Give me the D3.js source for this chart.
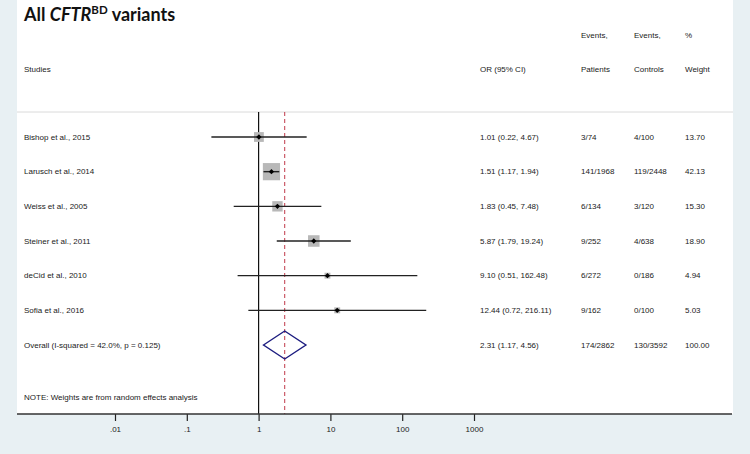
<!DOCTYPE html>
<html><head><meta charset="utf-8">
<script src="https://cdn.jsdelivr.net/npm/d3@7"></script>
<style>body{margin:0;background:#e8f0f3;} svg{display:block;}</style>
</head><body>
<svg id="c" width="750" height="454"></svg>
<script>
const studies = ["Bishop et al., 2015","Larusch et al., 2014","Weiss et al., 2005","Steiner et al., 2011","deCid et al., 2010","Sofia et al., 2016"];
const orValues = [1.01,1.51,1.83,5.87,9.10,12.44];
const ciLow = [0.22,1.17,0.45,1.79,0.51,0.72];
const ciHigh = [4.67,1.94,7.48,19.24,162.48,216.11];
const orText = ["1.01 (0.22, 4.67)","1.51 (1.17, 1.94)","1.83 (0.45, 7.48)","5.87 (1.79, 19.24)","9.10 (0.51, 162.48)","12.44 (0.72, 216.11)"];
const eventsPatients = ["3/74","141/1968","6/134","9/252","6/272","9/162"];
const eventsControls = ["4/100","119/2448","3/120","4/638","0/186","0/100"];
const weights = [13.70,42.13,15.30,18.90,4.94,5.03];
const overall = {label:"Overall  (I-squared = 42.0%, p = 0.125)", or:2.31, lo:1.17, hi:4.56, text:"2.31 (1.17, 4.56)", patients:"174/2862", controls:"130/3592", weight:"100.00"};
const tickValues = [0.01,0.1,1,10,100,1000];
const tickLabels = [".01",".1","1","10","100","1000"];

const svg = d3.select("#c");
const font = "'Liberation Sans', Arial, sans-serif";
const panelL = 17, panelR = 733, panelB = 414;

svg.append("rect").attr("x",0).attr("y",0).attr("width",750).attr("height",454).attr("fill","#e8f0f3");
svg.append("rect").attr("x",panelL).attr("y",0).attr("width",panelR-panelL).attr("height",panelB).attr("fill","#fff");

// title
const title = svg.append("text").attr("x",24).attr("y",21)
  .attr("font-family","Lato, 'Open Sans', sans-serif").attr("font-weight","bold").attr("font-size",18).attr("fill","#111");
title.append("tspan").text("All ");
title.append("tspan").attr("font-style","italic").text("CFTR");
title.append("tspan").attr("font-size",11.5).attr("dy",-7).text("BD");
title.append("tspan").attr("dy",7).text(" variants");

const x = d3.scaleLog().domain([0.01,1000]).range([115,474]);
const y = d3.scaleLinear().domain([0,6]).range([137,345]);

const txt = (xx,yy,s,anchor) => svg.append("text").attr("x",xx).attr("y",yy).attr("dy","0.35em")
  .attr("font-family",font).attr("font-size",8).attr("fill","#1a1a1a").attr("text-anchor",anchor||"start").text(s);

// headers
txt(24,69.5,"Studies");
txt(480,69.5,"OR (95% CI)");
txt(581,35,"Events,"); txt(581,69.5,"Patients");
txt(634,35,"Events,"); txt(634,69.5,"Controls");
txt(685,35,"%"); txt(685,69.5,"Weight");

svg.append("line").attr("x1",panelL).attr("x2",panelR).attr("y1",112).attr("y2",112).attr("stroke","#dadada").attr("stroke-width",1);

// reference lines
svg.append("line").attr("x1",x(1)).attr("x2",x(1)).attr("y1",112).attr("y2",panelB).attr("stroke","#111").attr("stroke-width",1.2);
svg.append("line").attr("x1",x(overall.or)).attr("x2",x(overall.or)).attr("y1",112).attr("y2",panelB)
  .attr("stroke","#c0394a").attr("stroke-width",1).attr("stroke-dasharray","4,3");

// rows
studies.forEach((s,i)=>{
  const yy = y(i);
  txt(24,yy,s);
  const side = 2.65*Math.sqrt(weights[i]);
  svg.append("rect").attr("x",x(orValues[i])-side/2).attr("y",yy-side/2).attr("width",side).attr("height",side).attr("fill","#b8b8b8");
  svg.append("line").attr("x1",x(ciLow[i])).attr("x2",x(ciHigh[i])).attr("y1",yy).attr("y2",yy).attr("stroke","#222").attr("stroke-width",1.4);
  svg.append("path").attr("d",d3.symbol(d3.symbolSquare,14)()).attr("transform",`translate(${x(orValues[i])},${yy}) rotate(45)`).attr("fill","#000");
  txt(480,yy,orText[i]);
  txt(581,yy,eventsPatients[i]);
  txt(634,yy,eventsControls[i]);
  txt(685,yy,weights[i].toFixed(2));
});

// overall
const yo = y(6);
txt(24,yo,overall.label);
svg.append("path").attr("d",`M${x(overall.lo)},${yo}L${x(overall.or)},${yo-14}L${x(overall.hi)},${yo}L${x(overall.or)},${yo+14}Z`)
  .attr("fill","none").attr("stroke","#1c1c80").attr("stroke-width",1.4);
txt(480,yo,overall.text);
txt(581,yo,overall.patients);
txt(634,yo,overall.controls);
txt(685,yo,overall.weight);

txt(24,397,"NOTE: Weights are from random effects analysis");

// axis
const axis = d3.axisBottom(x).tickValues(tickValues).tickSize(7).tickFormat((d,i)=>tickLabels[i]);
const g = svg.append("g").attr("transform",`translate(0,${panelB})`).call(axis);
g.select(".domain").remove();
g.selectAll(".tick line").attr("stroke","#222").attr("stroke-width",1.2);
g.selectAll(".tick text").attr("font-family",font).attr("font-size",8).attr("fill","#1a1a1a").attr("y",12);
svg.append("line").attr("x1",panelL).attr("x2",panelR-1).attr("y1",panelB).attr("y2",panelB).attr("stroke","#333").attr("stroke-width",1.4);
</script>
</body></html>
